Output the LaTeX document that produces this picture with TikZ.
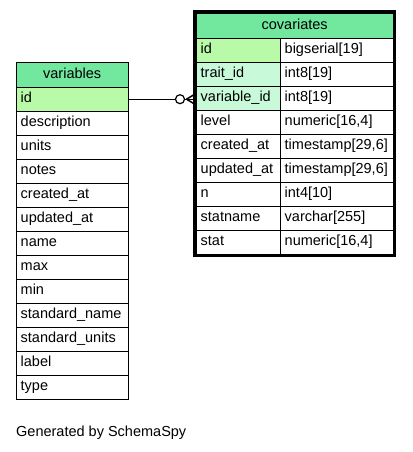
\documentclass[tikz,border=0pt]{standalone}
\usepackage{fontspec}
\setmainfont{Liberation Sans}
\usetikzlibrary{positioning, calc}
\definecolor{headgreen}{HTML}{71E89E}
\definecolor{pkgreen}{HTML}{B8FAA8}
\definecolor{fkgreen}{HTML}{C8FADA}
\newcommand{\cellfont}{\fontsize{14.5}{17}\selectfont}

\begin{document}
\begin{tikzpicture}[x=1pt, y=-1pt,
    cell/.style={draw, anchor=north west, minimum height=24pt, inner xsep=4.5pt,
      inner ysep=0pt, align=left, font=\cellfont, text height=10.5pt, text depth=3pt},
    headcell/.style={cell, fill=headgreen, align=center, minimum height=25pt},
    vcol/.style={cell, text width=103pt},
    namecol/.style={cell, text width=75pt},
    typecol/.style={cell, text width=104pt}]
  \useasboundingbox[fill=white] (0,0) rectangle (412,452);

  % Table 1: variables
  \node[headcell, text width=103pt] (v-head) at (16,62) {variables};
  \node[vcol, fill=pkgreen] (v-id) at (16,87) {id};
  \node[vcol] (v-desc) at (16,111) {description};
  \node[vcol] (v-units) at (16,135) {units};
  \node[vcol] (v-notes) at (16,159) {notes};
  \node[vcol] (v-created) at (16,183) {created\_at};
  \node[vcol] (v-updated) at (16,207) {updated\_at};
  \node[vcol] (v-name) at (16,231) {name};
  \node[vcol] (v-max) at (16,255) {max};
  \node[vcol] (v-min) at (16,279) {min};
  \node[vcol] (v-stdname) at (16,303) {standard\_name};
  \node[vcol] (v-stdunits) at (16,327) {standard\_units};
  \node[vcol] (v-label) at (16,351) {label};
  \node[vcol] (v-type) at (16,375) {type};

  % Table 2: covariates (focused)
  \node[headcell, text width=188pt] (c-head) at (196,13) {covariates};
  \node[namecol, fill=pkgreen] (c-id) at (196,38) {id};
  \node[typecol] (c-id-t) at (280,38) {bigserial[19]};
  \node[namecol, fill=fkgreen] (c-trait) at (196,62) {trait\_id};
  \node[typecol] (c-trait-t) at (280,62) {int8[19]};
  \node[namecol, fill=fkgreen] (c-var) at (196,86) {variable\_id};
  \node[typecol] (c-var-t) at (280,86) {int8[19]};
  \node[namecol] (c-level) at (196,110) {level};
  \node[typecol] (c-level-t) at (280,110) {numeric[16,4]};
  \node[namecol] (c-created) at (196,134) {created\_at};
  \node[typecol] (c-created-t) at (280,134) {timestamp[29,6]};
  \node[namecol] (c-updated) at (196,158) {updated\_at};
  \node[typecol] (c-updated-t) at (280,158) {timestamp[29,6]};
  \node[namecol] (c-n) at (196,182) {n};
  \node[typecol] (c-n-t) at (280,182) {int4[10]};
  \node[namecol] (c-statname) at (196,206) {statname};
  \node[typecol] (c-statname-t) at (280,206) {varchar[255]};
  \node[namecol] (c-stat) at (196,230) {stat};
  \node[typecol] (c-stat-t) at (280,230) {numeric[16,4]};
  \draw[line width=3pt] (c-head.north west) ++(-1.5,-1.5) rectangle ($(c-stat-t.south east)+(1.5,1.5)$);

  % relation: covariates.variable_id -> variables.id
  \draw (v-id.east) -- (v-id.east -| c-var.west);
  \coordinate (crow) at ($(v-id.east -| c-var.west)+(-2,0)$);
  \draw[fill=white, line width=1.2pt] ($(crow)+(-14,0)$) circle (4.5);
  \draw[line width=1.5pt] ($(crow)+(-7.5,0)$) -- ($(crow)+(0,-4.5)$);
  \draw[line width=1.5pt] ($(crow)+(-7.5,0)$) -- ($(crow)+(0,4.5)$);

  \node[anchor=west, font=\cellfont, inner sep=0pt] (footer) at (16,433) {Generated by SchemaSpy};
\end{tikzpicture}
\end{document}
